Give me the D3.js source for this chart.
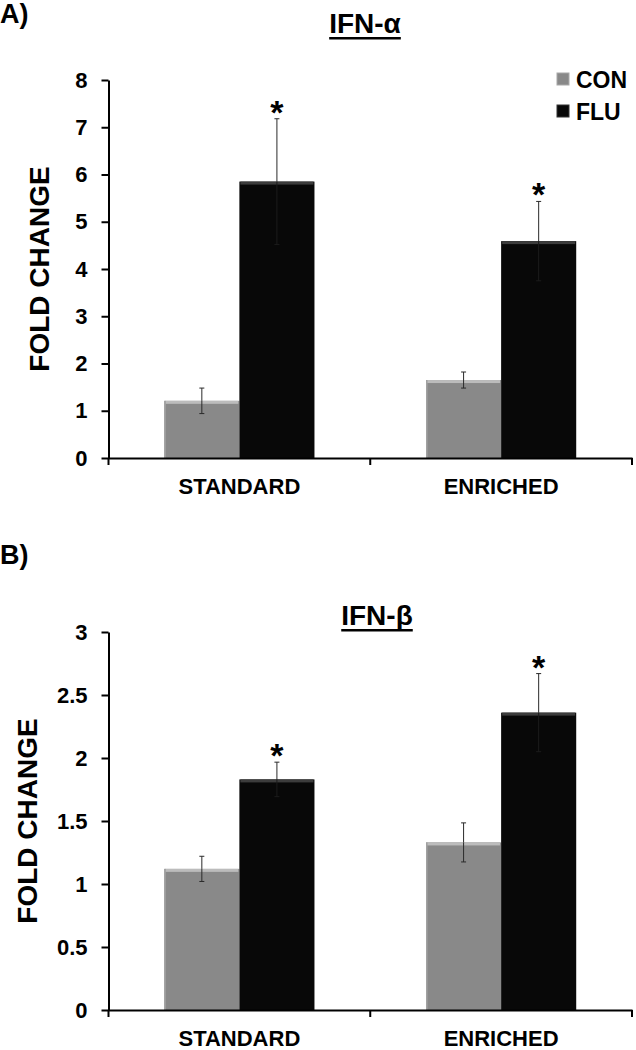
<!DOCTYPE html>
<html>
<head>
<meta charset="utf-8">
<script src="https://cdn.jsdelivr.net/npm/d3@7"></script>
<style>
  html, body { margin: 0; padding: 0; background: #fff; }
  svg { display: block; }
  text { font-family: "Liberation Sans", Arial, sans-serif; font-weight: bold; fill: #000; }
</style>
</head>
<body>
<svg id="chart" width="636" height="1050"></svg>
<script>
// ---------- DATA ----------
const categories = ["STANDARD", "ENRICHED"];
const series = ["CON", "FLU"];

const alphaCON = [1.21, 1.65];
const alphaFLU = [5.85, 4.59];
const alphaErrCON = [0.27, 0.17];
const alphaErrFLU = [1.33, 0.84];
const alphaSigFLU = [true, true];
const alphaTicks = [0, 1, 2, 3, 4, 5, 6, 7, 8];

const betaCON = [1.12, 1.33];
const betaFLU = [1.83, 2.36];
const betaErrCON = [0.10, 0.155];
const betaErrFLU = [0.137, 0.31];
const betaSigFLU = [true, true];
const betaTicks = [0, 0.5, 1, 1.5, 2, 2.5, 3];

const panelLabels = ["A)", "B)"];
const panelTitles = ["IFN-\u03b1", "IFN-\u03b2"];
const yTitle = "FOLD CHANGE";

// ---------- LAYOUT ----------
const svg = d3.select("#chart");
const colors = { CON: "#898989", FLU: "#080808" };
const hiColors = { CON: "#bcbcbc", FLU: "#3c3c3c" };

const x0 = d3.scaleBand().domain(categories).range([108.5, 632]).paddingInner(0).paddingOuter(0);
const x1 = d3.scaleBand().domain(series).range([0, x0.bandwidth()]).paddingInner(0).paddingOuter(0.743);

function panel(cfg) {
  const g = svg.append("g");
  const y = d3.scaleLinear().domain([0, cfg.max]).range([cfg.y0, cfg.yTop]);

  // panel label
  g.append("text").attr("x", 0).attr("y", cfg.labelY).attr("font-size", 27).text(cfg.label);

  // title with underline
  const t = g.append("text").attr("x", cfg.titleX).attr("y", cfg.titleY)
    .attr("text-anchor", "middle").attr("font-size", 28).text(cfg.title);
  const tw = t.node().getComputedTextLength();
  g.append("rect").attr("x", cfg.titleX - tw / 2).attr("y", cfg.titleY + 4)
    .attr("width", tw).attr("height", 2.5).attr("fill", "#000");

  // y axis
  const ya = d3.axisLeft(y).tickValues(cfg.ticks).tickFormat(d3.format("~g"))
    .tickSize(7).tickSizeOuter(0).tickPadding(14);
  const yg = g.append("g").attr("transform", `translate(${x0.range()[0]},0)`).call(ya);
  yg.select(".domain").attr("stroke", "#000").attr("stroke-width", 2);
  yg.selectAll(".tick line").attr("stroke", "#000").attr("stroke-width", 2);
  yg.selectAll(".tick text").attr("font-size", 22).attr("font-family", null).attr("fill", "#000");

  // y title
  g.append("text").attr("transform", `translate(${cfg.yTitleX},${(cfg.y0 + cfg.yTop) / 2}) rotate(-90)`)
    .attr("text-anchor", "middle").attr("dominant-baseline", "central")
    .attr("font-size", 28).text(yTitle);

  // bars
  const rows = [];
  categories.forEach((c, i) => {
    rows.push({ cat: c, s: "CON", v: cfg.con[i], e: cfg.errCon[i], sig: false });
    rows.push({ cat: c, s: "FLU", v: cfg.flu[i], e: cfg.errFlu[i], sig: cfg.sig[i] });
  });
  const bx = d => x0(d.cat) + x1(d.s);
  const bw = x1.bandwidth();

  g.selectAll("rect.bar").data(rows).join("rect").attr("class", "bar")
    .attr("x", bx).attr("y", d => y(d.v)).attr("width", bw)
    .attr("height", d => y(0) - y(d.v)).attr("fill", d => colors[d.s]);
  // slight bevel on bars
  g.selectAll("rect.hi").data(rows).join("rect").attr("class", "hi")
    .attr("x", d => bx(d) + 1).attr("y", d => y(d.v)).attr("width", bw - 2)
    .attr("height", 3).attr("fill", d => hiColors[d.s]);
  g.selectAll("rect.edge").data(rows.filter(d => d.s === "CON")).join("rect").attr("class", "edge")
    .attr("x", d => bx(d)).attr("y", d => y(d.v)).attr("width", 1.5)
    .attr("height", d => y(0) - y(d.v)).attr("fill", "#a2a2a2");

  // error bars
  const eg = g.append("g").attr("stroke-width", 1);
  rows.forEach(d => {
    const cx = bx(d) + bw / 2;
    const up = "#2a2a2a";
    const down = d.s === "FLU" ? "#1c1c1c" : "#2a2a2a";
    eg.append("line").attr("x1", cx).attr("x2", cx).attr("y1", y(d.v + d.e)).attr("y2", y(d.v)).attr("stroke", up);
    eg.append("line").attr("x1", cx).attr("x2", cx).attr("y1", y(d.v)).attr("y2", y(d.v - d.e)).attr("stroke", down);
    eg.append("line").attr("x1", cx - 2.5).attr("x2", cx + 2.5).attr("y1", y(d.v + d.e)).attr("y2", y(d.v + d.e)).attr("stroke", up);
    eg.append("line").attr("x1", cx - 2.5).attr("x2", cx + 2.5).attr("y1", y(d.v - d.e)).attr("y2", y(d.v - d.e)).attr("stroke", down);
    if (d.sig) {
      g.append("text").attr("x", cx).attr("y", y(d.v + d.e) + 5)
        .attr("text-anchor", "middle").attr("font-size", 34).text("*");
    }
  });

  // x axis
  const xa = d3.axisBottom(x0).tickSize(0).tickPadding(20);
  const xg = g.append("g").attr("transform", `translate(0,${cfg.y0})`).call(xa);
  xg.select(".domain").attr("stroke", "#000").attr("stroke-width", 2);
  xg.selectAll(".tick text").attr("font-size", 22).attr("font-family", null).attr("fill", "#000");
  const bounds = categories.map(c => x0(c)).concat([x0.range()[1]]);
  xg.selectAll("line.bt").data(bounds).join("line").attr("class", "bt")
    .attr("x1", d => d).attr("x2", d => d).attr("y1", 0).attr("y2", 7)
    .attr("stroke", "#000").attr("stroke-width", 2);

  return y;
}

panel({ label: panelLabels[0], labelY: 23, title: panelTitles[0], titleX: 365, titleY: 33,
  max: 8, ticks: alphaTicks, y0: 458, yTop: 80, yTitleX: 39.5,
  con: alphaCON, flu: alphaFLU, errCon: alphaErrCON, errFlu: alphaErrFLU, sig: alphaSigFLU });

panel({ label: panelLabels[1], labelY: 564, title: panelTitles[1], titleX: 377, titleY: 625,
  max: 3, ticks: betaTicks, y0: 1010, yTop: 632, yTitleX: 27,
  con: betaCON, flu: betaFLU, errCon: betaErrCON, errFlu: betaErrFLU, sig: betaSigFLU });

// legend
const lg = svg.append("g");
series.forEach((s, i) => {
  const yy = [88, 120][i];
  lg.append("rect").attr("x", 557).attr("y", yy - 15).attr("width", 12).attr("height", 12)
    .attr("fill", colors[s]).attr("stroke", s === "CON" ? "#a8a8a8" : "#333").attr("stroke-width", 1);
  lg.append("text").attr("x", 576).attr("y", yy).attr("font-size", 23).text(s);
});
</script>
</body>
</html>
